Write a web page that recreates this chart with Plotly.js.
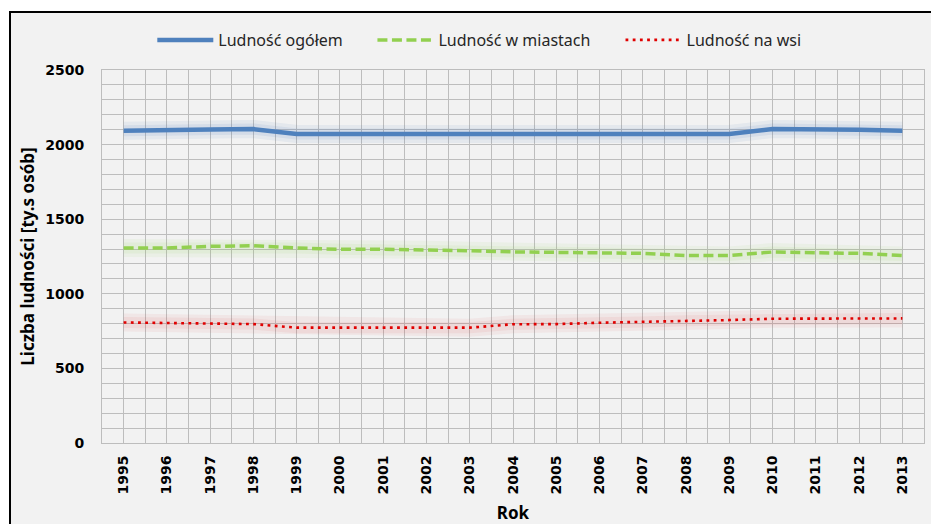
<!DOCTYPE html>
<html>
<head>
<meta charset="utf-8">
<script src="https://cdn.plot.ly/plotly-3.0.1.min.js"></script>
<style>
  html, body { margin: 0; padding: 0; background: #ffffff; width: 931px; height: 524px; overflow: hidden; }
  #frame { position: absolute; left: 9px; top: 11px; width: 940px; height: 540px; border: 2px solid #000; background: #f2f2f2; }
  #chart { position: absolute; left: 11px; top: 13px; width: 920px; height: 511px; }
</style>
</head>
<body>
<div id="frame"></div>
<div id="chart"></div>
<script>
// Data (thousands of people)
const years = [1995, 1996, 1997, 1998, 1999, 2000, 2001, 2002, 2003, 2004,
               2005, 2006, 2007, 2008, 2009, 2010, 2011, 2012, 2013];
const yearLabels = years.map(String);
const totalPop = [2093, 2094, 2101, 2104, 2071, 2071, 2071, 2071, 2071, 2071,
                  2071, 2071, 2071, 2071, 2071, 2104, 2104, 2100, 2093];
const urbanPop = [1307, 1307, 1318, 1322, 1307, 1298, 1298, 1295, 1289, 1281,
                  1278, 1273, 1271, 1257, 1257, 1280, 1275, 1271, 1257];
const ruralPop = [808, 804, 797, 797, 773, 773, 773, 773, 773, 796,
                  797, 806, 811, 820, 824, 833, 835, 835, 835];
const seriesNames = ['Ludność ogółem', 'Ludność w miastach', 'Ludność na wsi'];

const blue = '#4f81bd', green = '#92d050', red = '#e00000';

function glow(y, rgb, a) {
  return [
    {x: years, y: y, mode: 'lines', showlegend: false, hoverinfo: 'skip',
     line: {color: 'rgba(' + rgb + ',' + (a * 0.8) + ')', width: 18}},
    {x: years, y: y, mode: 'lines', showlegend: false, hoverinfo: 'skip',
     line: {color: 'rgba(' + rgb + ',' + a + ')', width: 11}}
  ];
}

const traces = [].concat(
  glow(totalPop, '79,129,189', 0.11),
  glow(urbanPop, '146,208,80', 0.09),
  glow(ruralPop, '220,60,60', 0.08),
  [
    {x: years, y: totalPop, name: seriesNames[0], mode: 'lines', legend: 'legend',
     line: {color: blue, width: 4.5}},
    {x: years, y: urbanPop, name: seriesNames[1], mode: 'lines', legend: 'legend2',
     line: {color: green, width: 3.5, dash: '10px,4.5px'}},
    {x: years, y: ruralPop, name: seriesNames[2], mode: 'lines', legend: 'legend3',
     line: {color: red, width: 2.6, dash: '2.8px,4.4px'}}
  ]
);

const tickFont = {family: 'DejaVu Sans', size: 14, color: '#000000', weight: 'bold'};
const gridCol = '#bdbdbd';

function legendAt(x) {
  return {
    orientation: 'h', x: x, xanchor: 'left', y: 1.0804, yanchor: 'middle',
    font: {family: 'Noto Sans', size: 16, color: '#262626'},
    itemwidth: 56, bgcolor: 'rgba(0,0,0,0)'
  };
}

const layout = {
  width: 920, height: 511,
  margin: {l: 91, r: 7, t: 57, b: 81},
  paper_bgcolor: '#f2f2f2',
  plot_bgcolor: '#f2f2f2',
  showlegend: true,
  legend: legendAt(0.0612),
  legend2: legendAt(0.329),
  legend3: legendAt(0.6308),
  xaxis: {
    range: [1994.5, 2013.5],
    tickmode: 'array', tickvals: years, ticktext: yearLabels,
    tickangle: -90, tickfont: tickFont, ticks: '', ticklabelstandoff: 6,
    showgrid: true, gridcolor: gridCol, gridwidth: 1,
    minor: {tick0: 1994.5, dtick: 0.5, showgrid: true, gridcolor: gridCol, gridwidth: 1},
    showline: true, linecolor: gridCol, linewidth: 1, mirror: true,
    zeroline: false, fixedrange: true,
    title: {text: 'Rok', font: {family: 'Noto Sans', size: 17, color: '#000000', weight: 'bold'}, standoff: 14}
  },
  yaxis: {
    range: [0, 2500], dtick: 500, tick0: 0,
    tickfont: tickFont, ticks: '', ticklabelstandoff: 14,
    showgrid: true, gridcolor: gridCol, gridwidth: 1,
    minor: {dtick: 100, showgrid: true, gridcolor: gridCol, gridwidth: 1},
    showline: true, linecolor: gridCol, linewidth: 1, mirror: true,
    zeroline: false, fixedrange: true,
    title: {text: 'Liczba ludności [ty.s osób]', font: {family: 'Noto Sans', size: 17, color: '#000000', weight: 'bold'}, standoff: 6}
  }
};

Plotly.newPlot('chart', traces, layout, {staticPlot: true, displayModeBar: false});
</script>
</body>
</html>
